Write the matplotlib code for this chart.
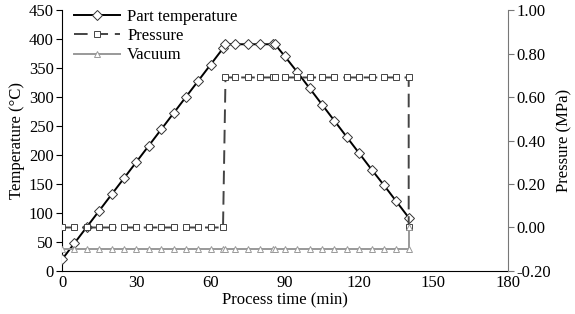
import matplotlib
matplotlib.use("Agg")
import matplotlib.pyplot as plt

plt.rcParams["font.family"] = ["Liberation Serif", "STIX Two Text", "DejaVu Serif"]
plt.rcParams["font.size"] = 12

# process time (min) and measured values
time = [0, 5, 10, 15, 20, 25, 30, 35, 40, 45, 50, 55, 60, 65, 66, 70, 75, 80, 85, 86,
        90, 95, 100, 105, 110, 115, 120, 125, 130, 135, 140]
temp = [20, 48, 76, 104, 132, 160, 188, 216, 244, 272, 300, 328, 356, 384, 391, 391, 391, 391, 391, 391,
        370, 343, 315, 287, 259, 231, 203, 175, 148, 120, 92]
p_time = [0, 5, 10, 15, 20, 25, 30, 35, 40, 45, 50, 55, 60, 65, 66, 70, 75, 80, 85, 86,
          90, 95, 100, 105, 110, 115, 120, 125, 130, 135, 140, 140]
pressure = [0.0] * 14 + [0.69] * 17 + [0.0]
vacuum = [-0.10] * 31 + [0.0]

fig = plt.figure(figsize=(5.75, 3.14), dpi=100)
ax = fig.add_axes([0.108, 0.137, 0.775, 0.831])
ax2 = ax.twinx()

l1, = ax.plot(time, temp, color="black", lw=1.4, marker="D", ms=5, mfc="white", mec="#333333",
              mew=0.7, label="Part temperature", zorder=3)
l2, = ax2.plot(p_time, pressure, color="#444444", lw=1.4, ls=(0, (7, 3.5)), marker="s", ms=4,
               mfc="white", mec="#444444", mew=0.7, label="Pressure")
l3, = ax2.plot(p_time, vacuum, color="#999999", lw=1.4, marker="^", ms=5, mfc="white",
               mec="#999999", mew=0.7, label="Vacuum")

ax.set_xlim(0, 180)
ax.set_ylim(0, 450)
ax.set_xticks(range(0, 181, 30))
ax.set_yticks(range(0, 451, 50))
ax2.set_ylim(-0.2, 1.0)
ax2.set_yticks([-0.2, 0.0, 0.2, 0.4, 0.6, 0.8, 1.0])
ax2.set_yticklabels([f"{v:.2f}" for v in ax2.get_yticks()])

ax.set_xlabel("Process time (min)", labelpad=1)
ax.set_ylabel("Temperature (°C)", labelpad=3)
ax2.set_ylabel("Pressure (MPa)", labelpad=4)

for a in (ax, ax2):
    a.spines["top"].set_visible(False)
ax.spines["right"].set_visible(False)
ax2.spines["left"].set_visible(False)
ax2.spines["bottom"].set_visible(False)
ax2.spines["right"].set_color("#777777")
ax.tick_params(axis="x", length=0, pad=3)
ax.tick_params(axis="y", direction="out", length=4, pad=2)
ax2.tick_params(axis="y", direction="out", length=4, pad=2, color="#777777")

ax.legend(handles=[l1, l2, l3], loc="upper left", bbox_to_anchor=(0.0, 1.05), frameon=False,
          handlelength=2.8, handletextpad=0.4, labelspacing=0.2, borderaxespad=0.3)

fig.savefig("out.png", dpi=100)
